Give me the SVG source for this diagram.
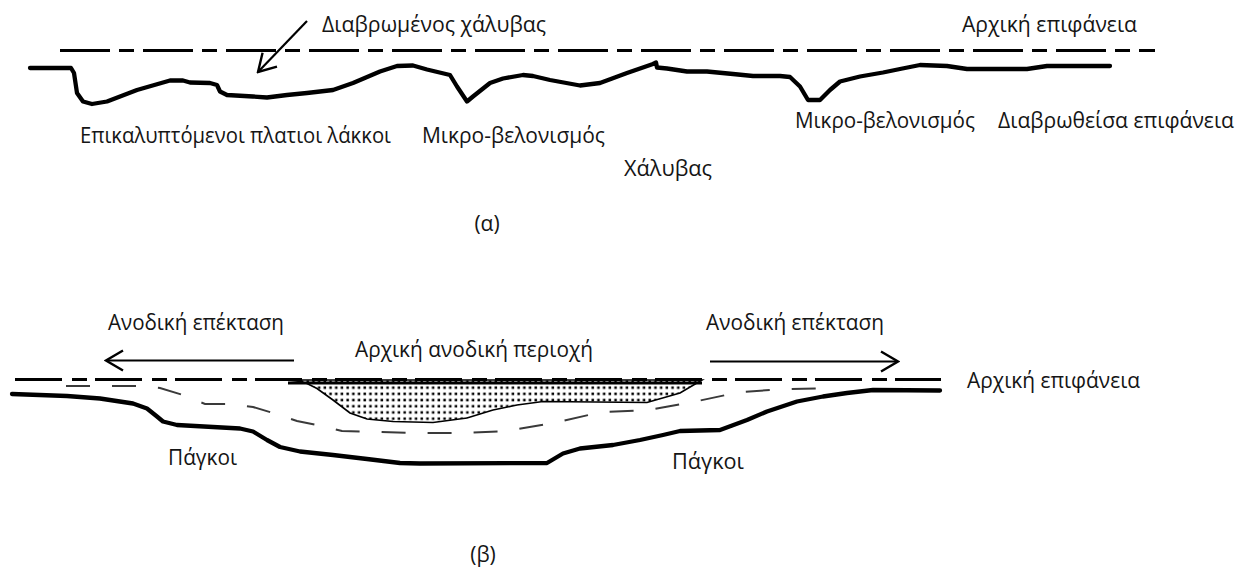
<svg xmlns="http://www.w3.org/2000/svg" width="1239" height="573" viewBox="0 0 1239 573">
  <defs>
    <style>
      .lbl { font-family: "Open Sans", "Liberation Sans", sans-serif; font-size: 21px; fill: #151515; }
      .ref { stroke: #000; stroke-width: 2.8; fill: none; }
      .surf { stroke: #000; stroke-width: 4.3; fill: none; stroke-linejoin: round; stroke-linecap: round; }
      .front { stroke: #3a3a3a; stroke-width: 2; fill: none; stroke-dasharray: 24 22; }
      .lead { stroke: #000; stroke-width: 2.2; fill: none; }
    </style>
    <marker id="open" viewBox="-20 -12 22 24" refX="0" refY="0" markerWidth="22" markerHeight="24" markerUnits="userSpaceOnUse" orient="auto">
      <path d="M-17,-10 L0,0 L-17,10" fill="none" stroke="#000" stroke-width="2.4" stroke-linejoin="miter"/>
    </marker>
    <pattern id="dots" width="5.7" height="6.2" patternUnits="userSpaceOnUse" x="288" y="385">
      <rect x="1.4" y="1.4" width="2.5" height="2.5" fill="#000"/>
    </pattern>
  </defs>

  <!-- (α) uniform corrosion with micro-pitting -->
  <g id="a-original-surface">
    <line class="ref" x1="60" y1="50.5" x2="1155" y2="50.5" stroke-dasharray="50 9 15 9"/>
  </g>
  <g id="a-corroded-surface">
    <path class="surf" d="M30,68 L71,68 L74,73 L77,93 L83,101.5 L92,104 L107,101.5 L137,90 L170,80.5 L183,80.5 L190,82.5 L210,83 L217,85 L220,91.5 L227,95 L253,96.5 L267,97.5 L287,95 L307,93 L333,90 L353,83 L380,71.5 L397,66 L413,65.5 L427,69.5 L450,75 L457,86.5 L467,101.5 L473,96.5 L490,83 L503,78.5 L523,75 L533,76 L550,80 L580,85.5 L600,83 L627,73 L653,64 L656,62.5 L657,67.5 L667,68.5 L687,71.5 L707,71.5 L733,74 L753,76 L780,76 L790,77 L800,86.5 L808,100 L820,100 L830,90 L840,81.5 L860,76.5 L883,72.5 L900,69 L920,65 L947,66 L967,69 L1027,69 L1047,66 L1110,66"/>
  </g>

  <!-- (β) anodic region spreading -->
  <g id="b-original-surface">
    <line class="ref" x1="15" y1="379.5" x2="941" y2="379.5" stroke-dasharray="47 10 15 8"/>
  </g>
  <g id="b-initial-anodic-area">
    <path d="M288,380 L300,381.5 L307,383.5 L317,388.5 L333,400 L350,413 L367,419 L393,421.5 L433,422.5 L467,418 L493,410 L517,405 L543,401.5 L647,402.5 L680,393 L702,380 Z" fill="url(#dots)" stroke="#000" stroke-width="1.6"/>
    <line x1="288" y1="383" x2="702" y2="383" stroke="#000" stroke-width="3.2"/>
  </g>
  <g id="b-corrosion-front">
    <path class="front" d="M66,386 L138,386 L160,388 L183,395 L205,404 L230,404 L253,407 L273,413 L297,421 L322,426 L342,431 L413,433 L462,433 L507,431 L553,423 L602,412 L648,410 L693,402 L740,392 L787,389 L835,388"/>
  </g>
  <g id="b-corroded-surface">
    <path class="surf" stroke-width="4.6" d="M12,394 L67,396 L100,398.5 L133,403.5 L147,408.5 L157,416.5 L163,421.5 L177,425 L240,428.5 L253,431.5 L267,440 L280,447 L300,451.5 L333,455 L367,459 L400,463 L420,463.5 L547,463 L563,453.5 L580,448.5 L613,445 L640,440 L663,435 L680,431 L720,430 L747,420 L767,411.5 L797,401.5 L823,396.5 L847,393 L873,390 L940,390.5"/>
  </g>

  <!-- leader and spreading arrows -->
  <g id="connectors">
    <line class="lead" x1="307" y1="21" x2="258" y2="72" marker-end="url(#open)"/>
    <line class="lead" x1="294" y1="360.5" x2="106" y2="360.5" marker-end="url(#open)"/>
    <line class="lead" x1="710" y1="361.5" x2="898" y2="361.5" marker-end="url(#open)"/>
  </g>

  <!-- labels -->
  <g id="labels-a">
    <text class="lbl" x="322" y="32" textLength="224" lengthAdjust="spacingAndGlyphs">Διαβρωμένος χάλυβας</text>
    <text class="lbl" x="962" y="32" textLength="175" lengthAdjust="spacingAndGlyphs">Αρχική επιφάνεια</text>
    <text class="lbl" x="80" y="143" textLength="311" lengthAdjust="spacingAndGlyphs">Επικαλυπτόμενοι πλατιοι λάκκοι</text>
    <text class="lbl" x="422" y="143" textLength="183" lengthAdjust="spacingAndGlyphs">Μικρο-βελονισμός</text>
    <text class="lbl" x="624" y="176" textLength="88" lengthAdjust="spacingAndGlyphs">Χάλυβας</text>
    <text class="lbl" x="795" y="128" textLength="180" lengthAdjust="spacingAndGlyphs">Μικρο-βελονισμός</text>
    <text class="lbl" x="998" y="128" textLength="236" lengthAdjust="spacingAndGlyphs">Διαβρωθείσα επιφάνεια</text>
    <text class="lbl" x="487" y="231" text-anchor="middle">(α)</text>
  </g>
  <g id="labels-b">
    <text class="lbl" x="108" y="330" textLength="176" lengthAdjust="spacingAndGlyphs">Ανοδική επέκταση</text>
    <text class="lbl" x="706" y="330" textLength="178" lengthAdjust="spacingAndGlyphs">Ανοδική επέκταση</text>
    <text class="lbl" x="355" y="357" textLength="238" lengthAdjust="spacingAndGlyphs">Αρχική ανοδική περιοχή</text>
    <text class="lbl" x="967" y="388" textLength="173" lengthAdjust="spacingAndGlyphs">Αρχική επιφάνεια</text>
    <text class="lbl" x="168" y="465" textLength="69" lengthAdjust="spacingAndGlyphs">Πάγκοι</text>
    <text class="lbl" x="672" y="469" textLength="72" lengthAdjust="spacingAndGlyphs">Πάγκοι</text>
    <text class="lbl" x="483" y="562" text-anchor="middle">(β)</text>
  </g>
</svg>
